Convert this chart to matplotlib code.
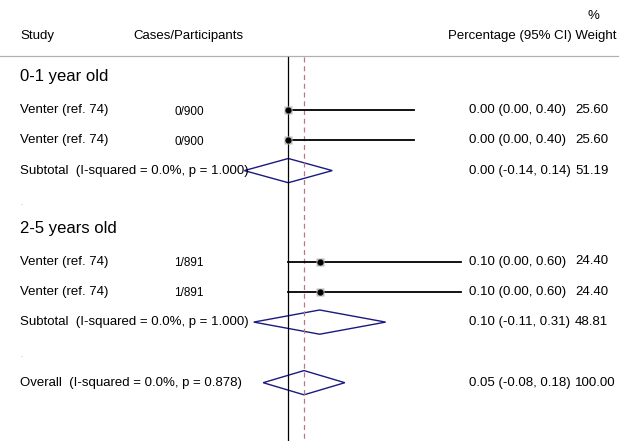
import matplotlib.pyplot as plt
import matplotlib.transforms as mtransforms
from matplotlib.patches import Polygon

plt.rcParams['font.family'] = ['Liberation Sans', 'DejaVu Sans']

# =========================
# DATA
# =========================
group_names = ["0-1 year old", "2-5 years old"]
study_names = ["Venter (ref. 74)", "Venter (ref. 74)", "Venter (ref. 74)", "Venter (ref. 74)"]
study_group = [0, 0, 1, 1]
cases = ["0/900", "0/900", "1/891", "1/891"]
est = [0.00, 0.00, 0.10, 0.10]
lo = [0.00, 0.00, 0.00, 0.00]
hi = [0.40, 0.40, 0.60, 0.60]
weight = [25.60, 25.60, 24.40, 24.40]

sub_labels = ["Subtotal  (I-squared = 0.0%, p = 1.000)",
              "Subtotal  (I-squared = 0.0%, p = 1.000)"]
sub_est = [0.00, 0.10]
sub_lo = [-0.14, -0.11]
sub_hi = [0.14, 0.31]
sub_weight = [51.19, 48.81]

overall_label = "Overall  (I-squared = 0.0%, p = 0.878)"
overall_est = 0.05
overall_lo = -0.08
overall_hi = 0.18
overall_weight = 100.00

X_CLIP = 0.55   # right edge of plot region, CIs are cut here
NAVY = "#1a1a80"
DASH = "#b87880"
FS = 9.5

# =========================
# FIGURE
# =========================
fig = plt.figure(figsize=(6.28, 4.41), dpi=100)
ax = fig.add_axes([0, 0, 1, 1])
ax.set_xlim(-288.3 / 314, (628 - 288.3) / 314)
ax.set_ylim((441 - 79.7) / 30.3, -79.7 / 30.3)
ax.axis("off")

# text columns in pixel-fraction x, data y
tr = mtransforms.blended_transform_factory(ax.transAxes, ax.transData)
def px(x):
    return x / 628

# header
ax.text(px(20), -1.45, "Study", transform=tr, fontsize=FS, va="center")
ax.text(px(188), -1.45, "Cases/Participants", transform=tr, fontsize=FS,
        va="center", ha="center")
ax.text(px(616), -1.45, "Percentage (95% CI) Weight", transform=tr, fontsize=FS,
        va="center", ha="right")
ax.text(px(593), -2.1, "%", transform=tr, fontsize=FS, va="center", ha="center")
ax.plot([0, 618 / 628], [-0.77, -0.77], transform=tr, color="#b0b0b0", lw=0.9)

# vertical reference lines
ax.plot([0, 0], [-0.75, 12], color="black", lw=0.9)
ax.plot([overall_est, overall_est], [-0.75, 12], color=DASH, lw=0.9,
        linestyle=(0, (4, 3)))

def diamond(y, c, l, h):
    ax.add_patch(Polygon([(l, y), (c, y - 0.4), (h, y), (c, y + 0.4)],
                         closed=True, fill=False, edgecolor=NAVY, lw=1.0))

def ci_text(y, e, l, h, w):
    ax.text(px(469), y, f"{e:.2f} ({l:.2f}, {h:.2f})", transform=tr,
            fontsize=FS, va="center")
    ax.text(px(575), y, f"{w:.2f}", transform=tr, fontsize=FS, va="center")

row = 0
for g, gname in enumerate(group_names):
    ax.text(px(20), row - 0.1, gname, transform=tr, fontsize=12, va="center")
    row += 1
    for i in range(len(est)):
        if study_group[i] != g:
            continue
        ax.text(px(20), row, study_names[i], transform=tr, fontsize=FS, va="center")
        ax.text(px(189), row + 0.05, cases[i], transform=tr, fontsize=8.5,
                va="center", ha="center")
        ax.plot([lo[i], min(hi[i], X_CLIP)], [row, row], color="black", lw=1.3)
        ax.plot(est[i], row, marker="s", ms=6, color="#bbbbbb", mec="none")
        ax.plot(est[i], row, marker="o", ms=3.5, color="black")
        ci_text(row, est[i], lo[i], hi[i], weight[i])
        row += 1
    ax.text(px(20), row, sub_labels[g], transform=tr, fontsize=FS, va="center")
    diamond(row, sub_est[g], sub_lo[g], sub_hi[g])
    ci_text(row, sub_est[g], sub_lo[g], sub_hi[g], sub_weight[g])
    row += 1
    ax.text(px(20), row + 0.1, ".", transform=tr, fontsize=5, va="center",
            color="#888888")
    row += 1

ax.text(px(20), row, overall_label, transform=tr, fontsize=FS, va="center")
diamond(row, overall_est, overall_lo, overall_hi)
ci_text(row, overall_est, overall_lo, overall_hi, overall_weight)

fig.savefig("out.png", dpi=100)
